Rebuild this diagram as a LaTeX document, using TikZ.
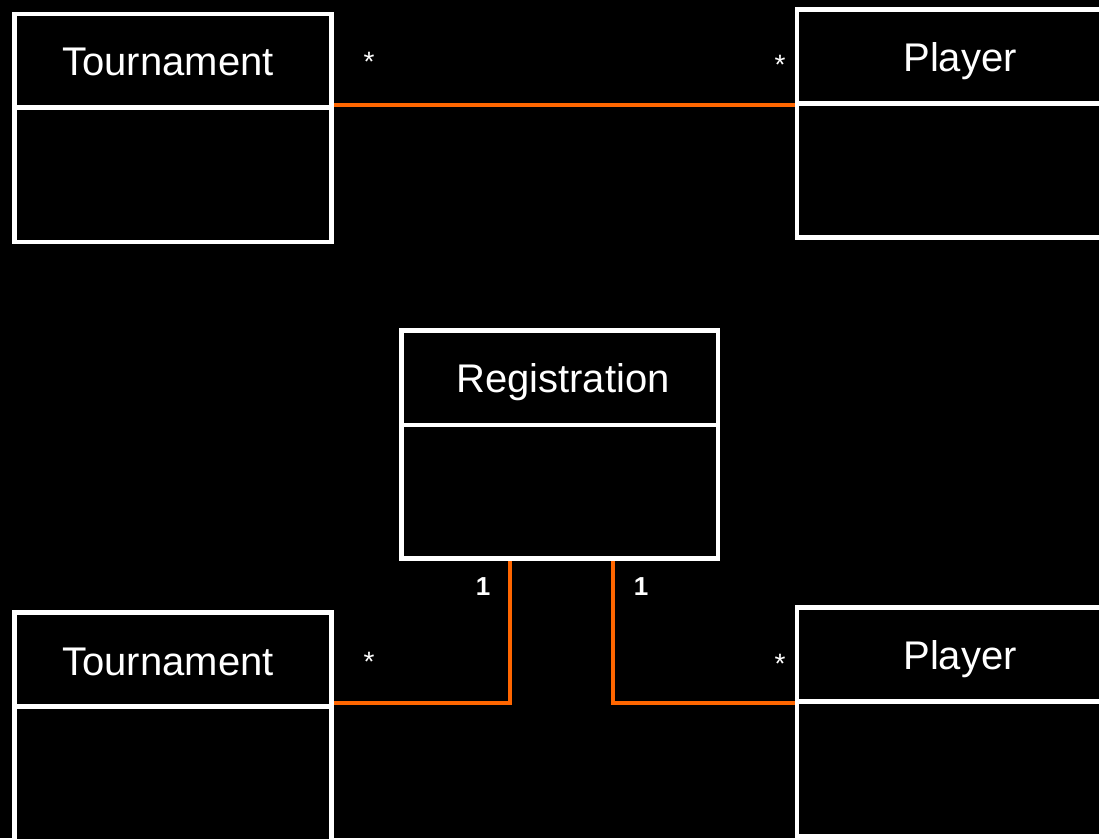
\documentclass[tikz,border=0pt]{standalone}
\usepackage{fontspec}
\setmainfont{Liberation Sans}
\begin{document}
\begin{tikzpicture}[x=1pt,y=-1pt,
  classbox/.style={draw=white, line width=4.5pt, fill=black, inner sep=0pt, rectangle},
  divline/.style={draw=white, line width=4.5pt},
  title/.style={text=white, font=\fontsize{40}{48}\selectfont, anchor=base, inner sep=0pt},
  mult/.style={text=white, font=\fontsize{28}{32}\selectfont, anchor=base, inner sep=0pt},
  multb/.style={text=white, font=\fontsize{26}{30}\selectfont\bfseries, anchor=base, inner sep=0pt},
  assoc/.style={draw={rgb,255:red,255;green,102;blue,0}, line width=4pt, line join=miter}]
\fill[black] (0,0) rectangle (1099,838);
\useasboundingbox (0,0) rectangle (1099,838);
\clip (0,0) rectangle (1099,838);
% top Tournament
\node[classbox, minimum width=317pt, minimum height=228pt] (t1) at (173,128) {};
\draw[divline] (t1.west |- 0,107.5) -- (t1.east |- 0,107.5);
\node[title] (t1n) at (168,75) {Tournament};
% top Player
\node[classbox, minimum width=313pt, minimum height=228pt] (p1) at (953.5,123.5) {};
\draw[divline] (p1.west |- 0,103.5) -- (p1.east |- 0,103.5);
\node[title] (p1n) at (960,71) {Player};
% Registration
\node[classbox, minimum width=316.5pt, minimum height=228pt] (reg) at (559.75,444.5) {};
\draw[divline] (reg.west |- 0,425) -- (reg.east |- 0,425);
\node[title] (regn) at (563,392) {Registration};
% bottom Tournament
\node[classbox, minimum width=317pt, minimum height=232.5pt] (t2) at (173,728.75) {};
\draw[divline] (t2.west |- 0,706.5) -- (t2.east |- 0,706.5);
\node[title] (t2n) at (168,675) {Tournament};
% bottom Player
\node[classbox, minimum width=313pt, minimum height=229pt] (p2) at (953.5,722) {};
\draw[divline] (p2.west |- 0,701.5) -- (p2.east |- 0,701.5);
\node[title] (p2n) at (960,669) {Player};
% connectors
\draw[assoc] (t1.east |- 0,105) -- (p1.west |- 0,105);
\draw[assoc] (t2.east |- 0,703) -| (reg.south -| 509.5,0);
\draw[assoc] (p2.west |- 0,702.5) -| (reg.south -| 612.5,0);
% multiplicities
\node[mult] (m1) at (369,71) {*};
\node[mult] (m2) at (780,74) {*};
\node[mult] (m3) at (369,671) {*};
\node[mult] (m4) at (780,673) {*};
\node[multb] (m5) at (483,595) {1};
\node[multb] (m6) at (641,595) {1};
\end{tikzpicture}
\end{document}
